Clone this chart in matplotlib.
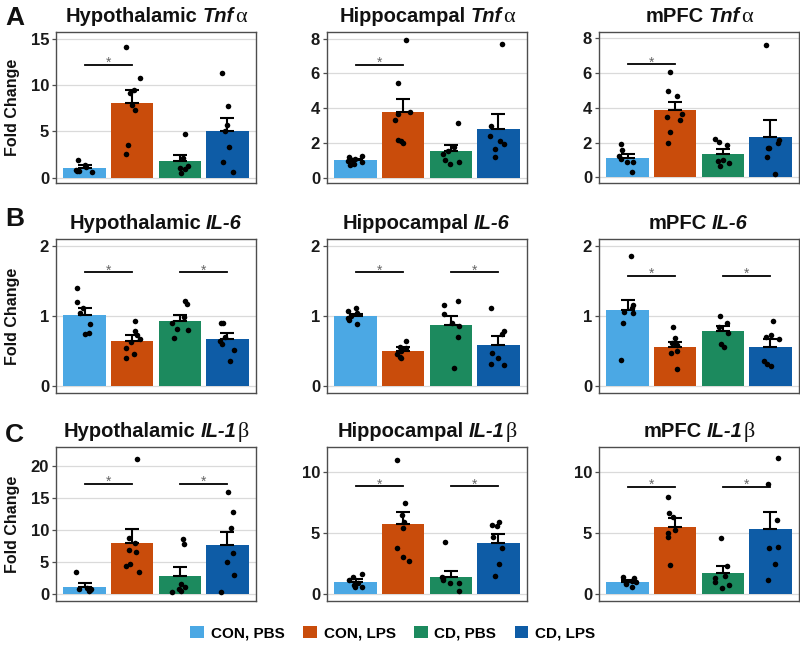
import matplotlib
matplotlib.use("Agg")
import matplotlib.pyplot as plt
import matplotlib.transforms as mtransforms
from matplotlib.patches import Patch
import numpy as np

plt.rcParams["font.family"] = ["Liberation Sans", "DejaVu Sans"]

groups = ["CON, PBS", "CON, LPS", "CD, PBS", "CD, LPS"]
colors = ["#4BA8E4", "#C94C0B", "#1C8A5E", "#0E5CA6"]
regions = ["Hypothalamic", "Hippocampal", "mPFC"]
panel_letters = ["A", "B", "C"]

# gene name (italic part, greek suffix)
genes = [("Tnf", "α"), ("IL-6", ""), ("IL-1", "β")]

# --- Tnf-alpha (row A) ---
tnf_means = [[1.07, 8.04, 1.79, 5.0], [1.01, 3.79, 1.52, 2.82], [1.09, 3.85, 1.37, 2.34]]
tnf_sems = [[0.3, 1.42, 0.64, 1.43], [0.1, 0.74, 0.35, 0.86], [0.24, 0.49, 0.25, 0.96]]
tnf_points = [
    [[1.9, 1.4, 1.2, 0.9, 0.8, 0.6, 0.7],
     [14.1, 10.8, 9.5, 9.1, 7.9, 7.3, 3.5, 2.6],
     [4.7, 2.2, 1.1, 1.0, 0.5, 1.3],
     [11.25, 7.75, 5.7, 5.07, 3.3, 1.7, 0.65]],
    [[1.25, 1.2, 1.1, 1.05, 1.0, 0.9, 0.8, 0.75],
     [7.94, 5.43, 3.8, 3.7, 3.3, 2.2, 2.1, 2.0],
     [3.14, 1.8, 1.56, 1.39, 1.05, 0.9, 0.82],
     [7.7, 3.0, 2.38, 1.96, 2.15, 1.68, 1.2]],
    [[1.9, 1.56, 1.24, 0.91, 0.86, 1.05, 0.32],
     [6.06, 4.99, 4.67, 3.66, 3.49, 3.28, 2.63, 2.0],
     [2.23, 2.04, 1.85, 1.0, 0.82, 0.95, 0.67],
     [7.62, 2.15, 1.96, 1.71, 1.68, 1.18, 0.19]],
]
tnf_sig_y = [12.2, 6.5, 6.5]

# --- IL-6 (row B) ---
il6_means = [[1.01, 0.65, 0.93, 0.68], [1.0, 0.505, 0.87, 0.59], [1.08, 0.56, 0.78, 0.56]]
il6_sems = [[0.1, 0.08, 0.08, 0.08], [0.03, 0.055, 0.13, 0.12], [0.15, 0.07, 0.08, 0.12]]
il6_points = [
    [[1.395, 1.2, 1.12, 1.04, 0.88, 0.76, 0.74],
     [0.93, 0.78, 0.73, 0.67, 0.54, 0.46, 0.40, 0.63],
     [1.21, 1.17, 0.99, 0.9, 0.82, 0.69, 0.8],
     [0.9, 0.9, 0.7, 0.64, 0.52, 0.36, 0.6]],
    [[1.11, 1.07, 1.04, 1.0, 0.97, 0.94, 0.89],
     [0.65, 0.56, 0.54, 0.5, 0.46, 0.41, 0.40],
     [1.22, 1.16, 1.03, 0.9, 0.86, 0.70, 0.26],
     [1.12, 0.79, 0.74, 0.48, 0.40, 0.32, 0.31]],
    [[1.86, 1.16, 1.12, 1.06, 1.04, 0.9, 0.37],
     [0.85, 0.69, 0.62, 0.59, 0.5, 0.48, 0.25],
     [1.0, 0.9, 0.84, 0.76, 0.6, 0.56],
     [0.93, 0.73, 0.70, 0.68, 0.36, 0.32, 0.29]],
]
il6_sig_y = [1.62, 1.62, 1.57]

# --- IL-1beta (row C) ---
il1b_means = [[1.04, 8.02, 2.81, 7.6], [1.01, 5.72, 1.42, 4.14], [0.97, 5.5, 1.69, 5.31]]
il1b_sems = [[0.63, 2.08, 1.46, 2.14], [0.22, 0.96, 0.48, 0.74], [0.15, 0.69, 0.6, 1.42]]
il1b_points = [
    [[3.5, 0.8, 0.6, 0.5, 0.9, 0.7],
     [21.1, 8.7, 7.9, 6.9, 6.6, 4.7, 4.4, 3.4],
     [8.54, 7.8, 1.5, 1.15, 0.73, 0.47, 0.26],
     [15.9, 12.8, 10.3, 6.35, 5.05, 2.97, 0.26]],
    [[1.63, 1.42, 1.14, 0.87, 0.6, 0.74, 0.54],
     [11.0, 7.47, 6.46, 5.91, 5.42, 3.73, 3.05, 2.72],
     [4.28, 1.42, 1.14, 0.93, 0.27, 1.28, 0.9],
     [5.91, 5.64, 5.59, 4.63, 3.73, 2.45, 1.5]],
    [[1.42, 1.28, 1.06, 0.93, 0.79, 0.6, 1.0],
     [7.96, 6.65, 6.32, 5.23, 4.96, 4.63, 2.37],
     [4.55, 2.29, 1.5, 1.28, 1.0, 0.46, 0.74],
     [11.14, 9.05, 6.05, 3.87, 3.73, 2.45, 1.14]],
]
il1b_sig_y = [17.2, 8.83, 8.77]

row_means = [tnf_means, il6_means, il1b_means]
row_sems = [tnf_sems, il6_sems, il1b_sems]
row_points = [tnf_points, il6_points, il1b_points]
row_sig_y = [tnf_sig_y, il6_sig_y, il1b_sig_y]
row_sig_pairs = [[(0, 1)], [(0, 1), (2, 3)], [(0, 1), (2, 3)]]

# layout (pixels of an 800x656 canvas)
W, H = 800, 656
col_left = [56, 327, 599]
col_width = 200
row_top = [32, 239, 447]
row_height = [151, 154, 154]
ylims = [
    [(-0.54, 15.7), (-0.29, 8.38), (-0.32, 8.35)],
    [(-0.095, 2.095)] * 3,
    [(-1.1, 23.0), (-0.57, 12.04), (-0.57, 12.04)],
]
yticks = [
    [[0, 5, 10, 15], [0, 2, 4, 6, 8], [0, 2, 4, 6, 8]],
    [[0, 1, 2]] * 3,
    [[0, 5, 10, 15, 20], [0, 5, 10], [0, 5, 10]],
]
letter_baseline = [25, 226, 442]

fig = plt.figure(figsize=(W / 100, H / 100), dpi=100)
renderer = fig.canvas.get_renderer()
rng = np.random.default_rng(11)


def rich_title(ax, pieces):
    texts, widths = [], []
    for s, props, gap in pieces:
        t = ax.text(0.5, 1.0, s, transform=ax.transAxes, ha="left", va="baseline", **props)
        texts.append(t)
        widths.append(t.get_window_extent(renderer).width + gap)
    x = -sum(widths) / 2
    for t, w in zip(texts, widths):
        t.set_transform(mtransforms.offset_copy(ax.transAxes, fig=fig, x=x, y=10, units="dots"))
        x += w


bold = dict(fontsize=14.5, fontweight="bold", color="#111111")
bold_it = dict(fontsize=14.5, fontweight="bold", fontstyle="italic", color="#111111")
greek = dict(fontsize=16, family=["Liberation Serif", "DejaVu Serif"], color="#111111")

x = np.arange(len(groups))
for r in range(3):
    for c in range(3):
        rect = [col_left[c] / W, 1 - (row_top[r] + row_height[r]) / H,
                col_width / W, row_height[r] / H]
        ax = fig.add_axes(rect)
        means = row_means[r][c]
        sems = row_sems[r][c]

        ax.bar(x, means, width=0.89, color=colors, zorder=2)
        ax.errorbar(x, means, yerr=[np.zeros(len(sems)), sems], fmt="none",
                    ecolor="black", elinewidth=1.5, capsize=5, capthick=1.5, zorder=3)
        for i, pts in enumerate(row_points[r][c]):
            jitter = rng.uniform(-0.18, 0.18, len(pts))
            ax.scatter(x[i] + jitter, pts, s=16, color="black", zorder=4, linewidths=0)

        for (a, b) in row_sig_pairs[r]:
            y = row_sig_y[r][c]
            ax.plot([x[a], x[b]], [y, y], color="black", lw=1.3, zorder=4)
            ax.annotate("*", xy=((x[a] + x[b]) / 2, y), xytext=(0, -1.5),
                        textcoords="offset points", ha="center", va="baseline",
                        fontsize=10, color="#666666")

        ax.set_xlim(-0.6, 3.6)
        ax.set_ylim(*ylims[r][c])
        ax.set_yticks(yticks[r][c])
        ax.set_xticks([])
        ax.grid(axis="y", color="#DADADA", lw=0.9, zorder=0)
        ax.set_axisbelow(True)
        for sp in ax.spines.values():
            sp.set_color("#4D4D4D")
            sp.set_linewidth(1.0)
        ax.tick_params(axis="y", length=3, width=0.9, color="#4D4D4D",
                       labelsize=12, pad=2)
        for lab in ax.get_yticklabels():
            lab.set_fontweight("bold")
            lab.set_color("#1A1A1A")

        italic_part, greek_part = genes[r]
        pieces = [(regions[c], bold, 5), (italic_part, bold_it, 1)]
        if greek_part:
            pieces.append((greek_part, greek, 0))
        rich_title(ax, pieces)

        if c == 0:
            ax.set_ylabel("Fold Change", fontsize=11.5, fontweight="bold", color="#111111")
            ax.yaxis.set_label_coords(-0.18, 0.5)

for r, letter in enumerate(panel_letters):
    fig.text(5 / W, 1 - letter_baseline[r] / H, letter, fontsize=19,
             fontweight="bold", ha="left", va="baseline", color="#111111")

handles = [Patch(facecolor=col, label=g) for col, g in zip(colors, groups)]
fig.legend(handles=handles, loc="center", bbox_to_anchor=(0.491, 1 - 633 / H),
           ncol=4, frameon=False, prop={"weight": "bold", "size": 11},
           handlelength=0.9, handleheight=0.9, handletextpad=0.45, columnspacing=1.2)

fig.savefig("out.png", dpi=100)
